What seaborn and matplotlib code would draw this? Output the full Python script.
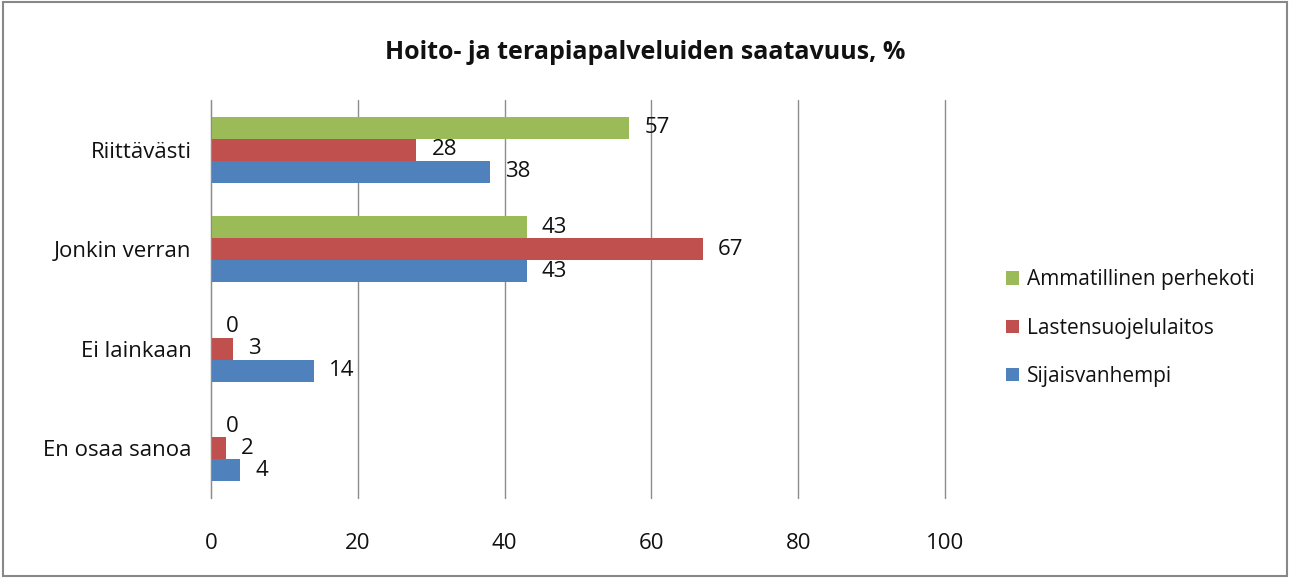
import numpy as np
import pandas as pd
import matplotlib
matplotlib.use("Agg")
import matplotlib.pyplot as plt
import seaborn as sns

categories = ['Riittävästi', 'Jonkin verran', 'Ei lainkaan', 'En osaa sanoa']
series = ['Ammatillinen perhekoti', 'Lastensuojelulaitos', 'Sijaisvanhempi']
ammatillinen = [57, 43, 0, 0]
lastensuojelu = [28, 67, 3, 2]
sijais = [38, 43, 14, 4]
colors = ['#9BBB59', '#C0504D', '#4F81BD']
x_ticks = [0, 20, 40, 60, 80, 100]

df = pd.DataFrame({
    'kategoria': categories * 3,
    'ryhma': [s for s in series for _ in categories],
    'arvo': ammatillinen + lastensuojelu + sijais,
})

sns.set_style('white')
plt.rcParams['font.family'] = ['Open Sans', 'DejaVu Sans']
plt.rcParams['text.color'] = '#111111'

fig = plt.figure(figsize=(12.91, 5.78), dpi=100)
ax = fig.add_axes([0.1634, 0.1384, 0.5686, 0.6886])

sns.barplot(data=df, y='kategoria', x='arvo', hue='ryhma', order=categories,
            hue_order=series, palette=colors, orient='h', width=0.66,
            saturation=1, ax=ax, edgecolor='none')

for cont in ax.containers:
    ax.bar_label(cont, padding=11, fontsize=16, color='#111111')

ax.set_xlim(0, 100)
ax.set_xticks(x_ticks)
ax.set_ylim(3.5, -0.5)
ax.set_xlabel('')
ax.set_ylabel('')
ax.grid(axis='x', color='#8c8c8c', linewidth=1)
for gl in ax.get_xgridlines():
    gl.set_clip_on(False)
ax.set_axisbelow(True)
ax.tick_params(axis='x', length=0, labelsize=16, pad=25, labelcolor='#111111')
ax.tick_params(axis='y', which='major', length=0, labelsize=16, pad=14, labelcolor='#111111')
ax.set_yticks(np.arange(-0.5, 4, 1), minor=True)
ax.tick_params(axis='y', which='minor', length=8, color='#8c8c8c', width=1)
for s in ['top', 'right', 'bottom']:
    ax.spines[s].set_visible(False)
ax.spines['left'].set_color('#8c8c8c')

fig.suptitle('Hoito- ja terapiapalveluiden saatavuus, %', x=0.5, y=0.91, va='center',
             fontsize=18, fontweight='bold')

handles, labels = ax.get_legend_handles_labels()
ax.legend(handles, labels, loc='center left', bbox_to_anchor=(0.765, 0.4325),
          bbox_transform=fig.transFigure, frameon=False, fontsize=15,
          handlelength=0.6, handleheight=0.6, handletextpad=0.4,
          labelspacing=1.3)

fig.add_artist(plt.Rectangle((0.002, 0.003), 0.995, 0.993, transform=fig.transFigure,
                             fill=False, edgecolor='#888888', linewidth=1.5))

fig.savefig('out.png', dpi=100)
